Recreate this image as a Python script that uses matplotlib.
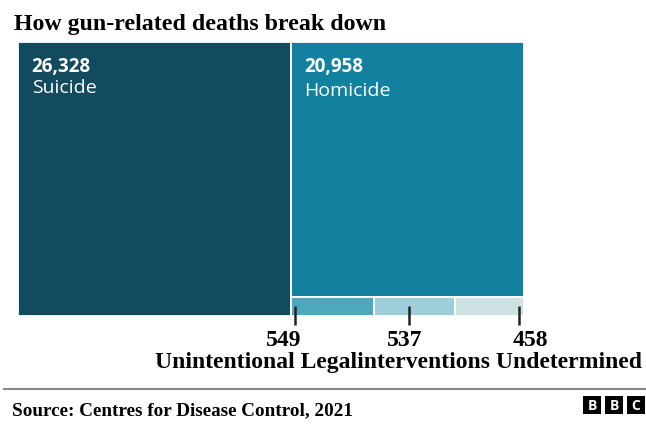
import matplotlib.pyplot as plt
from matplotlib.patches import Rectangle

# data
categories = ["Suicide", "Homicide", "Unintentional", "Legalinterventions", "Undetermined"]
deaths = [26328, 20958, 549, 537, 458]
colors = ["#134b5e", "#14809f", "#4ea8bd", "#9fcedb", "#cfe2e3"]

serif = "Liberation Serif"
sans = "Open Sans"

W, H = 646, 439
fig = plt.figure(figsize=(W / 100, H / 100), dpi=100)

# treemap box in pixels: x 18..524, y 43..317
ax = fig.add_axes([18 / W, 1 - 317 / H, 506 / W, 274 / H])
ax.set_xlim(0, 1)
ax.set_ylim(1, 0)
ax.axis("off")

total = sum(deaths)
# suicide takes the left column, the rest share the right column
w0 = deaths[0] / total
rects = [(0, 0, w0, 1)]
rest = total - deaths[0]
h1 = deaths[1] / rest
rects.append((w0, 0, 1 - w0, h1))
small = sum(deaths[2:])
x = w0
for v in deaths[2:]:
    w = (1 - w0) * v / small
    rects.append((x, h1, w, 1 - h1))
    x += w

for (rx, ry, rw, rh), c in zip(rects, colors):
    ax.add_patch(Rectangle((rx, ry), rw, rh, facecolor=c, edgecolor="white", linewidth=1.3))

# big labels inside boxes
for i in range(2):
    rx, ry, rw, rh = rects[i]
    dy = 0 if i == 0 else 0.011
    ax.text(rx + 0.027, 0.05, f"{deaths[i]:,}", color="white", fontsize=13.5,
            fontweight="bold", family=sans, va="top", ha="left")
    ax.text(rx + 0.027, 0.13 + dy, categories[i], color="white", fontsize=14,
            family=sans, va="top", ha="left")

# ticks and values for the small boxes
offsets = [0.05, 0.43, 0.93]
label_shift = [-0.022, -0.008, 0.022]
for i, (r, off, sh) in enumerate(zip(rects[2:], offsets, label_shift)):
    rx, ry, rw, rh = r
    tx = rx + rw * off
    ax.plot([tx, tx], [1 - 10 / 274, 1 + 9 / 274], color="#222222", lw=1.8,
            clip_on=False, solid_capstyle="butt")
    ax.text(tx + sh, 1 + 29 / 274, f"{deaths[i + 2]}", fontsize=17, fontweight="bold",
            family=serif, ha="center", va="baseline", clip_on=False)

fig.text(642 / W, 1 - 368 / H, " ".join(categories[2:]), fontsize=17, fontweight="bold",
         family=serif, ha="right", va="baseline")

# title
fig.text(14 / W, 1 - 30 / H, "How gun-related deaths break down", fontsize=17.2,
         fontweight="bold", family=serif, ha="left", va="baseline")

# footer
fig.add_artist(plt.Line2D([4 / W, 1], [1 - 390 / H, 1 - 390 / H], color="#888888", lw=1.5))
fig.text(12 / W, 1 - 415 / H, "Source: Centres for Disease Control, 2021", fontsize=13.8,
         fontweight="bold", family=serif, ha="left", va="baseline")

for k, letter in enumerate("BBC"):
    bx = 583 + k * 22
    fig.add_artist(Rectangle((bx / W, 1 - 415 / H), 18 / W, 18 / H, facecolor="black",
                             edgecolor="none", transform=fig.transFigure))
    fig.text((bx + 9) / W, 1 - 406 / H, letter, color="white", fontsize=10,
             fontweight="bold", family=sans, ha="center", va="center")

fig.savefig("out.png", dpi=100)
